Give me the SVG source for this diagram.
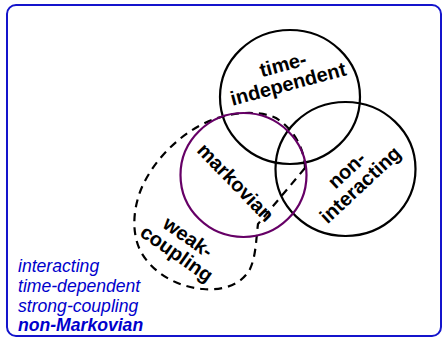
<svg xmlns="http://www.w3.org/2000/svg" width="443" height="337" viewBox="0 0 443 337">
<style>
.lbl{font-family:"Liberation Sans",Arial,sans-serif;font-weight:bold;font-size:20px;fill:#000;text-anchor:middle}
.leg{font-family:"Liberation Sans",Arial,sans-serif;font-style:italic;font-size:17.6px;fill:#0000cc}
.set{fill:none;stroke:#000;stroke-width:2.2}
</style>
<rect x="7" y="5" width="434" height="331" rx="9" fill="#fff" stroke="#1414cc" stroke-width="2"/>
<g id="connectors"></g>
<g id="weak-coupling">
<path d="M305,168 L258,224 C256,240 256,256 250,269 C242,284 224,291 203,289 C177,287 153,273 141,252 C131,233 133,208 142,187 C155,158 183,131 212,120 C233,112 258,110 276,118 A63,62 0 0 1 305,168" fill="none" stroke="#000" stroke-width="2.2" stroke-dasharray="8,6"/>
<text class="lbl" transform="translate(182,246) rotate(35)"><tspan x="0" y="-4">weak-</tspan><tspan x="0" y="16">coupling</tspan></text>
</g>
<g id="time-independent">
<ellipse class="set" cx="290" cy="97" rx="70" ry="67"/>
<text class="lbl" transform="translate(285.5,74) rotate(-15)"><tspan x="0" y="-3">time-</tspan><tspan x="0" y="17">independent</tspan></text>
</g>
<g id="non-interacting">
<ellipse class="set" cx="345.5" cy="169" rx="70" ry="67"/>
<text class="lbl" transform="translate(354,178) rotate(-43)"><tspan x="0" y="-4">non-</tspan><tspan x="0" y="16">interacting</tspan></text>
</g>
<g id="markovian">
<ellipse cx="243.5" cy="175" rx="63" ry="62" fill="none" stroke="#660066" stroke-width="2.2"/>
<text class="lbl" transform="translate(235,183) rotate(46)" x="0" y="6">markovian</text>
</g>
<g id="legend">
<text class="leg" x="18" y="272">interacting</text>
<text class="leg" x="18" y="292">time-dependent</text>
<text class="leg" x="18" y="312">strong-coupling</text>
<text class="leg" x="18" y="331" font-weight="bold">non-Markovian</text>
</g>
</svg>
